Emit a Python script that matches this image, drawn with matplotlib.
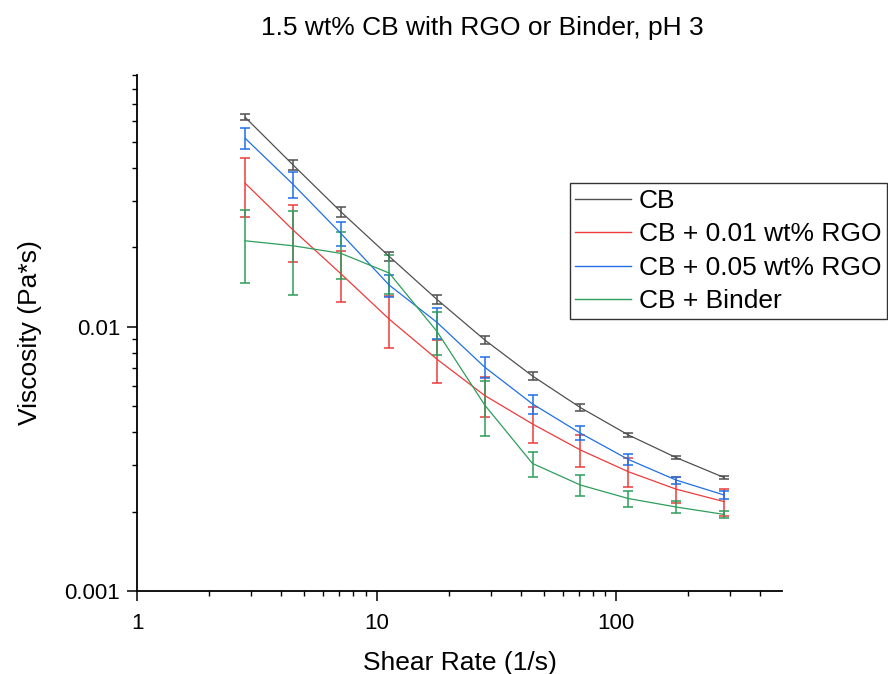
import matplotlib.pyplot as plt
from matplotlib.lines import Line2D
from matplotlib.ticker import LogLocator, FixedLocator, NullFormatter

plt.rcParams['font.family'] = ['Liberation Sans', 'DejaVu Sans']

# Shear rate (1/s)
shear_rate = [2.83, 4.48, 7.1, 11.3, 17.9, 28.3, 44.8, 71.0, 112.5, 178.3, 282.6]

# Viscosity (Pa*s) and standard deviation for each sample
cb = [0.0622, 0.0411, 0.0273, 0.0185, 0.0127, 0.00893, 0.00652, 0.00495, 0.0039, 0.0032, 0.00269]
cb_err = [0.0016, 0.0018, 0.0012, 0.0008, 0.0005, 0.00033, 0.00023, 0.00015, 0.00008, 0.00005, 0.00003]

rgo_001 = [0.035, 0.0233, 0.0159, 0.0107, 0.00754, 0.0055, 0.00429, 0.00342, 0.00283, 0.00243, 0.00218]
rgo_001_err = [0.0088, 0.0057, 0.0035, 0.0024, 0.0014, 0.00095, 0.00067, 0.00048, 0.00035, 0.00028, 0.00025]

rgo_005 = [0.0518, 0.0347, 0.0226, 0.0144, 0.0104, 0.00704, 0.00511, 0.00396, 0.00315, 0.00263, 0.00231]
rgo_005_err = [0.0048, 0.0038, 0.0024, 0.0014, 0.0014, 0.00066, 0.00043, 0.00024, 0.00014, 0.00008, 0.00008]

binder = [0.0212, 0.0203, 0.019, 0.016, 0.0096, 0.00506, 0.00304, 0.00252, 0.00224, 0.00208, 0.00195]
binder_err = [0.0065, 0.0071, 0.0038, 0.0027, 0.0018, 0.0012, 0.00033, 0.00023, 0.00016, 0.00011, 0.00006]

labels = ["CB", "CB + 0.01 wt% RGO", "CB + 0.05 wt% RGO", "CB + Binder"]
colors = ['#505050', '#ee3b3b', '#1f6fe5', '#2e9e5b']

fig = plt.figure(figsize=(8.88, 6.74), dpi=100)
ax = fig.add_axes([137 / 888, 83 / 674, 645 / 888, 516 / 674])

series = [(cb, cb_err), (rgo_001, rgo_001_err), (rgo_005, rgo_005_err), (binder, binder_err)]
handles = []
for (vals, errs), lab, col in zip(series, labels, colors):
    ax.errorbar(shear_rate, vals, yerr=errs, color=col, lw=0.9, elinewidth=1.1,
                capsize=3.6, capthick=1.1)
    handles.append(Line2D([], [], color=col, lw=1.0, label=lab))

ax.set_xscale('log')
ax.set_yscale('log')
ax.set_xlim(1, 493)
ax.set_ylim(0.001, 0.09)

ax.xaxis.set_major_locator(FixedLocator([1, 10, 100]))
ax.xaxis.set_minor_locator(LogLocator(base=10, subs=range(2, 10)))
ax.xaxis.set_minor_formatter(NullFormatter())
ax.set_xticklabels(["1", "10", "100"])
ax.yaxis.set_major_locator(FixedLocator([0.001, 0.01]))
ax.yaxis.set_minor_locator(LogLocator(base=10, subs=range(2, 10)))
ax.yaxis.set_minor_formatter(NullFormatter())
ax.set_yticklabels(["0.001", "0.01"])

for s in ['top', 'right']:
    ax.spines[s].set_visible(False)
for s in ['left', 'bottom']:
    ax.spines[s].set_linewidth(1.3)
ax.tick_params(which='major', direction='out', length=7, width=1.1, labelsize=16)
ax.tick_params(which='minor', direction='out', length=3.6, width=1.0)
ax.tick_params(axis='x', which='major', pad=9)
ax.tick_params(axis='y', which='major', pad=5)

ax.set_xlabel("Shear Rate (1/s)", fontsize=19, labelpad=12)
ax.set_ylabel("Viscosity (Pa*s)", fontsize=19, labelpad=16)
fig.text(482 / 888, 1 - 28 / 674, "1.5 wt% CB with RGO or Binder, pH 3",
         fontsize=19, ha='center', va='center')

leg = ax.legend(handles=handles, loc='upper right', bbox_to_anchor=(887 / 888, 1 - 183 / 674),
                bbox_transform=fig.transFigure, fontsize=19, frameon=True,
                fancybox=False, edgecolor='black', borderpad=0.22,
                labelspacing=0.36, handlelength=2.1, handletextpad=0.3,
                borderaxespad=0)
leg.get_frame().set_linewidth(1.0)

fig.savefig("out.png", dpi=100)
